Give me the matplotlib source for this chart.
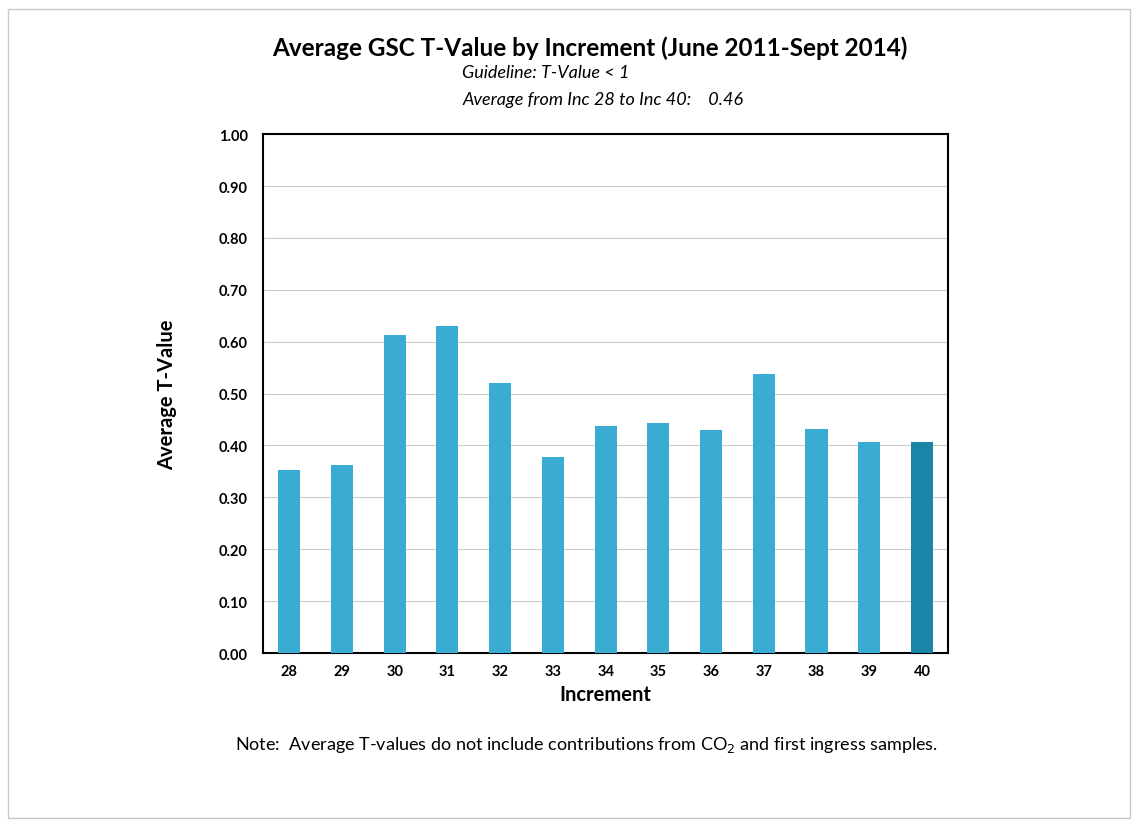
import matplotlib
matplotlib.use("Agg")
import matplotlib.pyplot as plt
from matplotlib.patches import Rectangle

increments = ["28", "29", "30", "31", "32", "33", "34", "35", "36", "37", "38", "39", "40"]
t_values = [0.353, 0.362, 0.612, 0.630, 0.520, 0.378, 0.437, 0.444, 0.430, 0.537, 0.431, 0.406, 0.407]
y_ticks = [0.0, 0.1, 0.2, 0.3, 0.4, 0.5, 0.6, 0.7, 0.8, 0.9, 1.0]

plt.rcParams['font.family'] = ['Lato', 'DejaVu Sans']

fig = plt.figure(figsize=(11.33, 8.29), dpi=100)
fig.patch.set_facecolor("white")
fig.add_artist(Rectangle((0.007, 0.012), 0.99, 0.976, transform=fig.transFigure,
                         fill=False, edgecolor="#c8c8c8", linewidth=1.0))

ax = fig.add_axes([0.232, 0.211, 0.605, 0.626])
colors = ["#3aabd2"] * (len(t_values) - 1) + ["#1b85a8"]
x = list(range(len(increments)))
ax.bar(x, t_values, width=0.42, color=colors, zorder=3)
ax.set_xlim(-0.5, len(increments) - 0.5)
ax.set_ylim(0, 1.0)
ax.set_yticks(y_ticks)
ax.set_yticklabels([f"{v:.2f}" for v in y_ticks], fontsize=10.5, fontweight="bold")
ax.set_xticks(x)
ax.set_xticklabels(increments, fontsize=10.5, fontweight="bold")
ax.tick_params(axis="y", length=0, pad=11)
ax.tick_params(axis="x", length=0, pad=8)
ax.grid(axis="y", color="#cccccc", linewidth=0.8, zorder=0)
for s in ax.spines.values():
    s.set_linewidth(1.5)
    s.set_color("black")
ax.set_ylabel("Average T-Value", fontsize=14.5, fontweight="bold", labelpad=30)
ax.set_xlabel("Increment", fontsize=14.5, fontweight="bold", labelpad=4)

fig.text(0.521, 0.942, "Average GSC T-Value by Increment (June 2011-Sept 2014)",
         ha="center", va="center", fontsize=17.5, fontweight="bold")
fig.text(0.408, 0.912, "Guideline: T-Value < 1", ha="left", va="center",
         fontsize=13, style="italic")
fig.text(0.408, 0.879, "Average from Inc 28 to Inc 40:    0.46", ha="left", va="center",
         fontsize=13, style="italic")
fig.text(0.207, 0.101, "Note:  Average T-values do not include contributions from CO$_2$ and first ingress samples.",
         ha="left", va="center", fontsize=13)

fig.savefig("out.png", dpi=100)
